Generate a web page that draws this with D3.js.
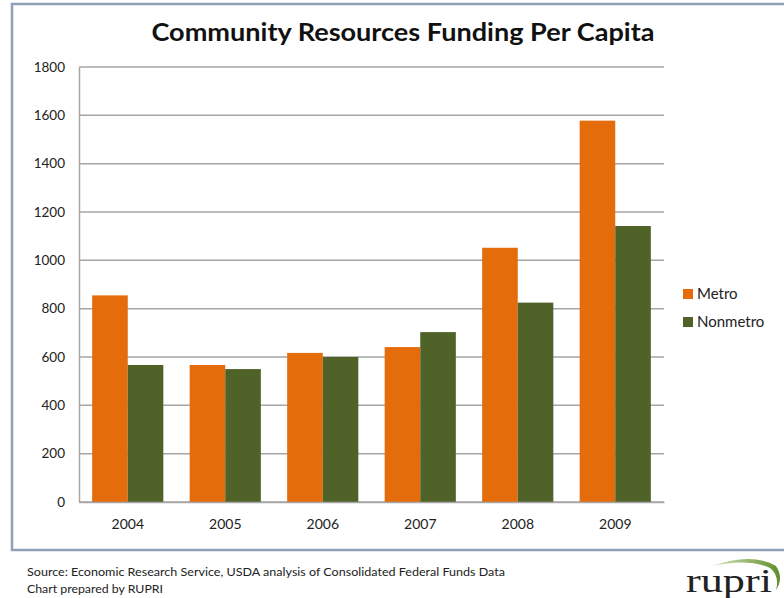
<!DOCTYPE html>
<html>
<head>
<meta charset="utf-8">
<script src="https://cdn.jsdelivr.net/npm/d3@7/dist/d3.min.js"></script>
<style>
  html, body { margin: 0; padding: 0; background: #fff; }
  svg { display: block; }
</style>
</head>
<body>
<svg id="chart" width="784" height="598"></svg>
<script>
// Community resources funding per capita, by year
const years = ["2004", "2005", "2006", "2007", "2008", "2009"];
const seriesNames = ["Metro", "Nonmetro"];
const metroValues = [855, 567, 617, 641, 1052, 1578];
const nonmetroValues = [567, 550, 600, 703, 825, 1142];
const yTicks = [0, 200, 400, 600, 800, 1000, 1200, 1400, 1600, 1800];
const seriesColors = ["#E46C0A", "#4F6228"];

const rows = years.map((y, i) => ({ year: y, values: [metroValues[i], nonmetroValues[i]] }));

const svg = d3.select("#chart");
const font = "Lato, 'Open Sans', sans-serif";

// outer frame
svg.append("rect")
  .attr("x", 12).attr("y", 4)
  .attr("width", 790).attr("height", 546)
  .attr("fill", "#fff")
  .attr("stroke", "#8EA1B7").attr("stroke-width", 2.5);

const plot = { left: 79, right: 664, top: 67, bottom: 502 };

const x = d3.scaleBand().domain(years).range([plot.left, plot.right]).paddingInner(0.27).paddingOuter(0.135);
const xInner = d3.scaleBand().domain(seriesNames).range([0, x.bandwidth()]);
const y = d3.scaleLinear().domain([0, 1800]).range([plot.bottom, plot.top]);

// gridlines
svg.append("g")
  .selectAll("line").data(yTicks).join("line")
  .attr("x1", plot.left).attr("x2", plot.right)
  .attr("y1", d => y(d)).attr("y2", d => y(d))
  .attr("stroke", "#A6A6A6").attr("stroke-width", 1.5);

// y axis
const yAxis = svg.append("g")
  .attr("transform", `translate(${plot.left},0)`)
  .call(d3.axisLeft(y).tickValues(yTicks).tickSize(0).tickPadding(14).tickFormat(d3.format("d")));
yAxis.select(".domain").attr("stroke", "#A6A6A6").attr("stroke-width", 1.5);
yAxis.selectAll("text").attr("font-family", font).attr("font-size", 13.5).attr("fill", "#222");

// bars
const groups = svg.append("g").selectAll("g").data(rows).join("g")
  .attr("transform", d => `translate(${x(d.year)},0)`);
groups.selectAll("rect")
  .data(d => d.values.map((v, i) => ({ name: seriesNames[i], value: v, i })))
  .join("rect")
  .attr("x", d => xInner(d.name))
  .attr("width", xInner.bandwidth())
  .attr("y", d => y(d.value))
  .attr("height", d => y(0) - y(d.value))
  .attr("fill", d => seriesColors[d.i]);

// x axis
const xAxisScale = d3.scaleBand().domain(years).range([plot.left, plot.right]);
const xAxis = svg.append("g")
  .attr("transform", `translate(0,${plot.bottom})`)
  .call(d3.axisBottom(xAxisScale).tickSize(0).tickPadding(17));
xAxis.select(".domain").attr("stroke", "#A6A6A6").attr("stroke-width", 1.5);
xAxis.selectAll("text").attr("font-family", font).attr("font-size", 14).attr("fill", "#222");

// title
svg.append("text")
  .attr("x", 403).attr("y", 41)
  .attr("text-anchor", "middle")
  .attr("font-family", font).attr("font-weight", 700).attr("font-size", 25)
  .attr("fill", "#111")
  .attr("textLength", 503).attr("lengthAdjust", "spacingAndGlyphs")
  .text("Community Resources Funding Per Capita");

// legend
const legend = svg.append("g").selectAll("g").data(seriesNames).join("g")
  .attr("transform", (d, i) => `translate(683,${294 + i * 28})`);
legend.append("rect").attr("x", 0).attr("y", -5).attr("width", 10).attr("height", 10)
  .attr("fill", (d, i) => seriesColors[i]);
legend.append("text").attr("x", 14).attr("y", 5)
  .attr("font-family", font).attr("font-size", 15).attr("fill", "#222")
  .text(d => d);

// source note
const notes = ["Source: Economic Research Service, USDA analysis of Consolidated Federal Funds Data", "Chart prepared by RUPRI"];
const noteWidths = [478, 136];
svg.append("g").selectAll("text").data(notes).join("text")
  .attr("x", 27).attr("y", (d, i) => 576 + i * 17)
  .attr("font-family", font).attr("font-size", 12).attr("fill", "#222")
  .attr("textLength", (d, i) => noteWidths[i]).attr("lengthAdjust", "spacingAndGlyphs")
  .text(d => d);

// logo
const defs = svg.append("defs");
const grad = defs.append("linearGradient").attr("id", "arcGrad").attr("x1", "0").attr("x2", "1");
grad.append("stop").attr("offset", "0").attr("stop-color", "#d8e6c0");
grad.append("stop").attr("offset", "1").attr("stop-color", "#5e8f2a");
svg.append("path")
  .attr("d", "M712,566 Q752,552 776,566 Q784,578 776,590 Q780,576 770,568 Q748,558 712,566 Z")
  .attr("fill", "url(#arcGrad)");
svg.append("text")
  .attr("x", 686).attr("y", 592)
  .attr("font-family", "'Liberation Serif', serif").attr("font-size", 34).attr("fill", "#222")
  .attr("textLength", 86).attr("lengthAdjust", "spacingAndGlyphs")
  .text("rupri");
</script>
</body>
</html>
